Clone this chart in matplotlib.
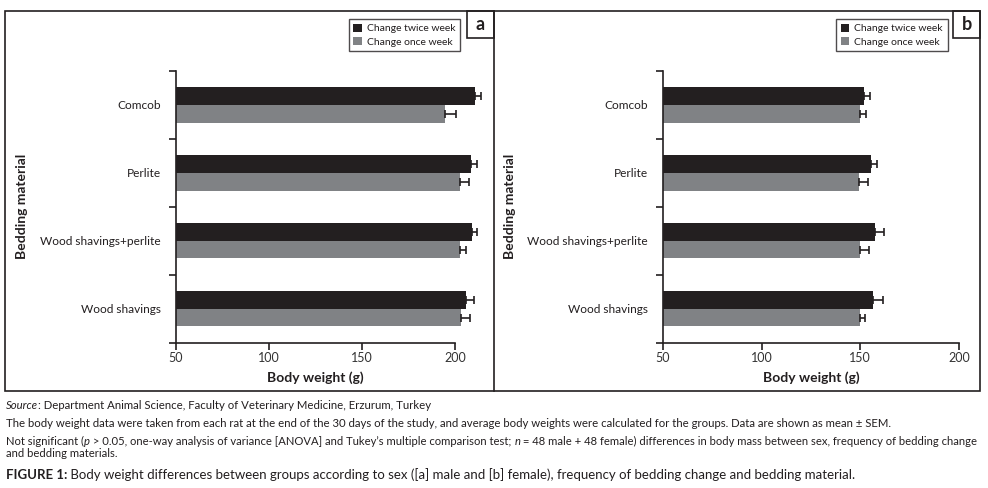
import matplotlib
matplotlib.use("Agg")
import matplotlib.pyplot as plt
from matplotlib import font_manager
from matplotlib.patches import Rectangle
from matplotlib.lines import Line2D
import numpy as np

categories = ["Comcob", "Perlite", "Wood shavings+perlite", "Wood shavings"]
series_names = ["Change twice week", "Change once week"]

male_twice = [210.7, 208.6, 209.1, 205.9]
male_twice_err = [3.5, 3.4, 2.9, 4.5]
male_once = [194.6, 202.7, 202.7, 203.2]
male_once_err = [5.7, 4.7, 3.4, 4.7]

female_twice = [152.0, 155.6, 157.6, 156.6]
female_twice_err = [2.7, 2.7, 4.4, 4.9]
female_once = [150.0, 149.5, 150.0, 150.0]
female_once_err = [2.7, 4.4, 4.4, 2.4]

xticks = [50, 100, 150, 200]
panel_letters = ["a", "b"]

DARK = "#231f20"
GREY = "#808285"

names = {f.name for f in font_manager.fontManager.ttflist}
MAIN = "Lato" if "Lato" in names else "DejaVu Sans"

plt.rcParams["font.family"] = [MAIN, "DejaVu Sans"]

W, H = 988, 488
fig = plt.figure(figsize=(W / 100, H / 100), dpi=100)


def fx(px):
    return px / W


def fy(py):
    return 1 - py / H


def draw_panel(left_px, right_px, top_px, bottom_px, twice, twice_err, once, once_err, ylabel_x):
    ax = fig.add_axes([fx(left_px), fy(bottom_px), fx(right_px - left_px), (bottom_px - top_px) / H])
    n = len(categories)
    y = np.arange(n)
    h = 0.26
    x0 = xticks[0]
    twice = np.asarray(twice)
    once = np.asarray(once)
    b1 = ax.barh(y - h / 2, twice - x0, height=h, left=x0, color=DARK, label=series_names[0],
                 clip_on=False, zorder=2)
    b2 = ax.barh(y + h / 2, once - x0, height=h, left=x0, color=GREY, label=series_names[1],
                 clip_on=False, zorder=2)
    ax.errorbar(twice, y - h / 2, xerr=[np.zeros(n), twice_err], fmt="none", ecolor=DARK,
                elinewidth=1.2, capsize=2.8, capthick=1.2, clip_on=False, zorder=3)
    ax.errorbar(once, y + h / 2, xerr=[np.zeros(n), once_err], fmt="none", ecolor=DARK,
                elinewidth=1.2, capsize=2.8, capthick=1.2, clip_on=False, zorder=3)
    ax.set_xlim(xticks[0], xticks[-1])
    ax.set_ylim(n - 0.5, -0.5)
    for s in ["top", "right"]:
        ax.spines[s].set_visible(False)
    for s in ["left", "bottom"]:
        ax.spines[s].set_linewidth(1.2)
        ax.spines[s].set_color(DARK)
        ax.spines[s].set_zorder(4)
    ax.set_xticks(xticks)
    ax.set_xticklabels([str(v) for v in xticks], fontsize=9, color="#333333")
    ax.tick_params(axis="x", direction="out", length=5, width=1.2, color=DARK, pad=2)
    ax.set_yticks(np.arange(n + 1) - 0.5)
    ax.set_yticklabels([])
    ax.tick_params(axis="y", which="major", direction="out", length=5, width=1.2, color=DARK)
    ax.set_yticks(y, minor=True)
    ax.set_yticklabels(categories, minor=True, fontsize=8.6, color=DARK)
    ax.tick_params(axis="y", which="minor", length=0, pad=11)
    ax.set_xlabel("Body weight (g)", fontsize=10, fontweight="bold", color=DARK, labelpad=5)
    fig.text(fx(ylabel_x), fy((top_px + bottom_px) / 2), "Bedding material", rotation=90,
             ha="center", va="center", fontsize=10, fontweight="bold", color=DARK)
    return ax, b1, b2


axA, a1, a2 = draw_panel(176, 455, 71, 342.7, male_twice, male_twice_err, male_once, male_once_err, 22)
axB, c1, c2 = draw_panel(663, 959, 71, 342.7, female_twice, female_twice_err, female_once, female_once_err, 510)

# frames
lw = 1.2
fig.add_artist(Rectangle((fx(5), fy(391)), fx(975), (391 - 11) / H, fill=False, edgecolor=DARK,
                         linewidth=lw, transform=fig.transFigure))
fig.add_artist(Line2D([fx(493.5), fx(493.5)], [fy(11), fy(391)], color=DARK, linewidth=lw,
                      transform=fig.transFigure))
for (x0, x1), letter in zip([(467, 493.5), (953, 980)], panel_letters):
    fig.add_artist(Rectangle((fx(x0), fy(38)), fx(x1 - x0), 27 / H, fill=False, edgecolor=DARK,
                             linewidth=lw, transform=fig.transFigure))
    fig.text(fx((x0 + x1) / 2), fy(24.5), letter, ha="center", va="center", fontsize=13,
             fontweight="bold", color=DARK)

# legends
for handles, right in [((a1, a2), 460), ((c1, c2), 947.5)]:
    leg = fig.legend(handles, series_names, loc="upper right", bbox_to_anchor=(fx(right), fy(19)),
                     bbox_transform=fig.transFigure, borderaxespad=0, fontsize=7.5, frameon=True,
                     fancybox=False, edgecolor=DARK, handlelength=0.8, handleheight=0.8,
                     handletextpad=0.5, borderpad=0.45, labelspacing=0.35)
    leg.get_frame().set_linewidth(1.0)
    for t in leg.get_texts():
        t.set_color(DARK)

# caption text
renderer = fig.canvas.get_renderer()


def rich_line(x_px, y_px, pieces, size):
    x = fx(x_px)
    for txt, style, weight in pieces:
        t = fig.text(x, fy(y_px), txt, fontsize=size, fontstyle=style, fontweight=weight,
                     color=DARK, ha="left", va="baseline")
        bb = t.get_window_extent(renderer=renderer)
        x = bb.x1 / fig.bbox.width


rich_line(6, 409, [("Source", "italic", "normal"),
                   (": Department Animal Science, Faculty of Veterinary Medicine, Erzurum, Turkey", "normal", "normal")],
          8.2)
rich_line(6, 427, [("The body weight data were taken from each rat at the end of the 30 days of the study, and average body weights were calculated for the groups. Data are shown as mean \u00b1 SEM.", "normal", "normal")],
          8.2)
rich_line(6, 445, [("Not significant (", "normal", "normal"), ("p", "italic", "normal"),
                   (" > 0.05, one-way analysis of variance [ANOVA] and Tukey\u2019s multiple comparison test; ", "normal", "normal"),
                   ("n", "italic", "normal"),
                   (" = 48 male + 48 female) differences in body mass between sex, frequency of bedding change", "normal", "normal")],
          8.1)
rich_line(6, 457, [("and bedding materials.", "normal", "normal")], 8.1)
rich_line(6, 479, [("FIGURE 1:", "normal", "bold"),
                   (" Body weight differences between groups according to sex ([a] male and [b] female), frequency of bedding change and bedding material.", "normal", "normal")],
          9.5)

fig.savefig("out.png", dpi=100)
